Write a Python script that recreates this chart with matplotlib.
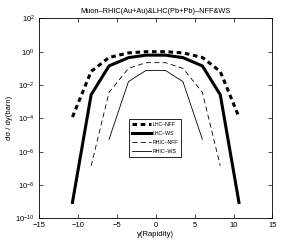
import numpy as np
import matplotlib
matplotlib.use("Agg")
import matplotlib.pyplot as plt

# rapidity points
y_lhc = [-10.7, -8.3, -6.0, -3.5, -1.25, 1.25, 3.5, 6.0, 8.3, 10.7]
y_rhic = [-8.3, -6.0, -3.5, -1.25, 1.25, 3.5, 6.0, 8.3]
y_rhic_ws = [-6.0, -3.5, -1.25, 1.25, 3.5, 6.0]

lhc_nff = [1.2e-4, 6.5e-2, 0.45, 0.85, 1.0, 1.0, 0.85, 0.45, 6.5e-2, 1.2e-4]
lhc_ws = [9e-10, 2.6e-3, 0.14, 0.44, 0.62, 0.62, 0.44, 0.14, 2.6e-3, 9e-10]
rhic_nff = [1.4e-7, 3.6e-3, 0.1, 0.22, 0.22, 0.1, 3.6e-3, 1.4e-7]
rhic_ws = [5.5e-6, 1.6e-2, 7.5e-2, 7.5e-2, 1.6e-2, 5.5e-6]

plt.rcParams['font.family'] = ['Liberation Sans', 'DejaVu Sans']
plt.rcParams['mathtext.fontset'] = 'custom'
plt.rcParams['mathtext.rm'] = 'Liberation Sans'

fig = plt.figure(figsize=(3, 2.45), dpi=100)
ax = fig.add_axes([0.13, 0.109, 0.778, 0.816])

ax.plot(y_lhc, lhc_nff, color="black", linestyle=(0, (1.5, 1.2)), linewidth=2.2, label="LHC–NFF")
ax.plot(y_lhc, lhc_ws, color="black", linestyle="-", linewidth=2.2, label="LHC–WS")
ax.plot(y_rhic, rhic_nff, color="black", linestyle=(0, (6, 4)), linewidth=0.6, label="RHIC–NFF")
ax.plot(y_rhic_ws, rhic_ws, color="black", linestyle="-", linewidth=0.6, label="RHIC–WS")

ax.set_yscale("log")
ax.set_xlim(-15, 15)
ax.set_ylim(1e-10, 1e2)
ax.set_xticks([-15, -10, -5, 0, 5, 10, 15])
ax.set_xticklabels(["−15", "−10", "−5", "0", "5", "10", "15"])
ax.set_yticks([1e-10, 1e-8, 1e-6, 1e-4, 1e-2, 1e0, 1e2])
ax.yaxis.set_minor_locator(matplotlib.ticker.NullLocator())
ax.tick_params(direction="in", top=True, right=True, labelsize=5.5, length=3, width=0.5)
ax.tick_params(axis="x", pad=3)
ax.tick_params(axis="y", pad=3)
for s in ax.spines.values():
    s.set_linewidth(0.6)

ax.set_title("Muon–RHIC(Au+Au)&LHC(Pb+Pb)–NFF&WS", fontsize=5.3, pad=4)
ax.set_xlabel("y(Rapidity)", fontsize=5.5, labelpad=1)
ax.set_ylabel("dσ / dy(barn)", fontsize=5.5, labelpad=2)

leg = ax.legend(loc="upper left", bbox_to_anchor=(0.375, 0.51), fontsize=3.8,
                fancybox=False, edgecolor="black", framealpha=1,
                handlelength=3.6, handletextpad=0.2, borderpad=0.6, labelspacing=0.75)
leg.get_frame().set_linewidth(0.6)

fig.savefig("out.png", dpi=100)
